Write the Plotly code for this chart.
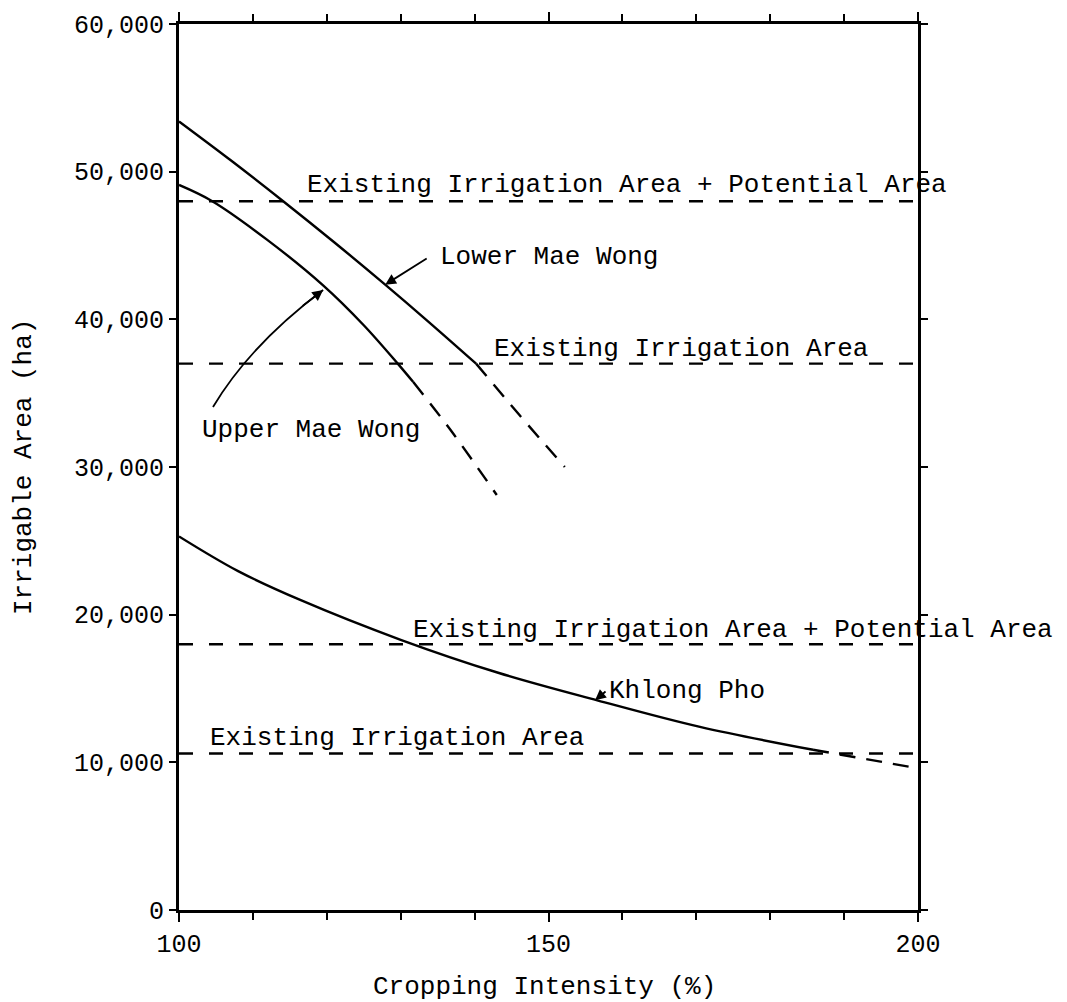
import plotly.graph_objects as go

# ---- data ----
lower_mw_solid_x = [100, 107, 114.1, 121, 127.9, 133.5, 140.2]
lower_mw_solid_y = [53400, 50770, 48000, 45220, 42350, 39950, 37000]
lower_mw_dash_x = [140.2, 146.1, 152.2]
lower_mw_dash_y = [37000, 33500, 30000]

upper_mw_solid_x = [100, 104.5, 111.9, 119.5, 125, 129.6, 131.7]
upper_mw_solid_y = [49100, 48000, 45400, 42300, 39600, 37000, 35750]
upper_mw_dash_x = [131.7, 136.9, 143.0]
upper_mw_dash_y = [35750, 32400, 28100]

khlong_solid_x = [100, 108, 116.4, 130, 143.3, 156.6, 170.5, 185.8]
khlong_solid_y = [25300, 22950, 21000, 18300, 16050, 14200, 12400, 10850]
khlong_dash_x = [185.8, 200]
khlong_dash_y = [10850, 9600]

x_range = [100, 200]
mae_wong_potential = 48000
mae_wong_existing = 37000
khlong_potential = 18000
khlong_existing = 10600

x_ticks = [100, 150, 200]
y_ticks = [0, 10000, 20000, 30000, 40000, 50000, 60000]

FONT = "Liberation Mono"
LW = 2.4

fig = go.Figure()

def add_line(x, y, dash):
    fig.add_trace(go.Scatter(x=x, y=y, mode="lines", line_shape="spline",
                             line=dict(color="black", width=LW, dash=dash),
                             showlegend=False, hoverinfo="skip"))

add_line(lower_mw_solid_x, lower_mw_solid_y, "solid")
add_line(lower_mw_dash_x, lower_mw_dash_y, "16px,11px")
add_line(upper_mw_solid_x, upper_mw_solid_y, "solid")
add_line(upper_mw_dash_x, upper_mw_dash_y, "16px,11px")
add_line(khlong_solid_x, khlong_solid_y, "solid")
add_line(khlong_dash_x, khlong_dash_y, "16px,11px")

for lvl in [mae_wong_potential, mae_wong_existing, khlong_potential, khlong_existing]:
    fig.add_trace(go.Scatter(x=x_range, y=[lvl, lvl], mode="lines",
                             line=dict(color="black", width=LW, dash="14px,16px"),
                             showlegend=False, hoverinfo="skip"))

tf = dict(family=FONT, size=26, color="black")
labels = [
    ("Existing Irrigation Area + Potential Area", 117.05, 49097),
    ("Existing Irrigation Area", 142.4, 37990),
    ("Lower Mae Wong", 135.0, 44250),
    ("Upper Mae Wong", 102.8, 32506),
    ("Existing Irrigation Area + Potential Area", 131.4, 18962),
    ("Khlong Pho", 157.9, 14800),
    ("Existing Irrigation Area", 103.9, 11680),
]
anns = []
for t, x, y in labels:
    anns.append(dict(text=t, x=x, y=y, xref="x", yref="y", xanchor="left",
                     yanchor="middle", showarrow=False, font=tf))

# arrow-only annotations (leader lines)
def arrow(x, y, ax, ay):
    anns.append(dict(text="", x=x, y=y, xref="x", yref="y", ax=ax, ay=ay,
                     axref="pixel", ayref="pixel", showarrow=True, arrowhead=2,
                     arrowsize=1.2, arrowwidth=1.8, arrowcolor="black",
                     font=dict(size=1)))

arrow(127.9, 42350, 43, -27)   # Lower Mae Wong
arrow(156.3, 14200, 12, -10)   # Khlong Pho
arrow(119.5, 41986, -22, 17)   # Upper Mae Wong (head)

# curved leader for Upper Mae Wong
fig.add_shape(type="path", xref="x", yref="y",
              path="M 104.6,34063 Q 109.6,38262 119.5,41986",
              line=dict(color="black", width=1.8))

# axis titles
anns.append(dict(text="Irrigable Area (ha)", x=-0.2097, y=0.5, xref="paper", yref="paper",
                 textangle=-90, showarrow=False, xanchor="center", yanchor="middle",
                 font=dict(family=FONT, size=26, color="black")))
anns.append(dict(text="Cropping Intensity (%)", x=0.495, y=-0.0869, xref="paper", yref="paper",
                 showarrow=False, xanchor="center", yanchor="middle",
                 font=dict(family=FONT, size=26, color="black")))

fig.update_layout(
    width=1067, height=1002,
    margin=dict(l=179, r=149, t=24, b=92),
    paper_bgcolor="white", plot_bgcolor="white",
    annotations=anns,
    xaxis=dict(range=x_range, tickvals=x_ticks, showgrid=False, zeroline=False,
               showline=True, linecolor="black", linewidth=3, mirror="ticks",
               ticks="outside", ticklen=9, tickwidth=2, tickcolor="black",
               tickfont=dict(family=FONT, size=25, color="black"),
               minor=dict(dtick=10, ticks="outside", ticklen=7, tickwidth=1.5, tickcolor="black")),
    yaxis=dict(range=[0, 60000], tickvals=y_ticks, tickformat=",", showgrid=False, zeroline=False,
               showline=True, linecolor="black", linewidth=3, mirror="ticks",
               ticks="outside", ticklen=7, tickwidth=2, tickcolor="black",
               tickfont=dict(family=FONT, size=25, color="black")),
)

fig.write_html("out.html")
